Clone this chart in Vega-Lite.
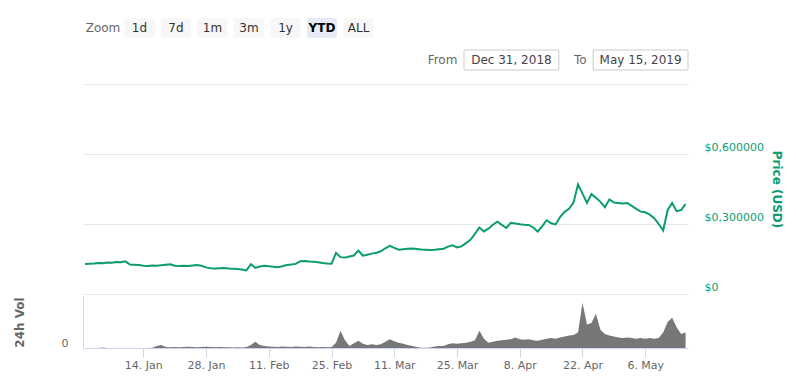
{
  "$schema": "https://vega.github.io/schema/vega-lite/v6.json",
  "padding": {"top": 18, "left": 13, "right": 5, "bottom": 5},
  "spacing": 2,
  "config": {"view": {"stroke": null}, "font": "DejaVu Sans"},
  "datasets": {
    "header": [
      {"row": "zoom", "label": "Zoom"},
      {"row": "zoom", "label": "1d"},
      {"row": "zoom", "label": "7d"},
      {"row": "zoom", "label": "1m"},
      {"row": "zoom", "label": "3m"},
      {"row": "zoom", "label": "1y"},
      {"row": "zoom", "label": "YTD"},
      {"row": "zoom", "label": "ALL"},
      {"row": "date", "label": "Dec 31, 2018", "prefix": "From"},
      {"row": "date", "label": "May 15, 2019", "prefix": "To"}
    ],
    "series": [
      {"date": "2019-01-01", "price": 0.129, "vol": 0},
      {"date": "2019-01-02", "price": 0.130, "vol": 0},
      {"date": "2019-01-03", "price": 0.131, "vol": 0},
      {"date": "2019-01-04", "price": 0.133, "vol": 0},
      {"date": "2019-01-05", "price": 0.132, "vol": 1},
      {"date": "2019-01-06", "price": 0.135, "vol": 0},
      {"date": "2019-01-07", "price": 0.134, "vol": 0},
      {"date": "2019-01-08", "price": 0.137, "vol": 0},
      {"date": "2019-01-09", "price": 0.136, "vol": 0},
      {"date": "2019-01-10", "price": 0.140, "vol": 0},
      {"date": "2019-01-11", "price": 0.126, "vol": 0},
      {"date": "2019-01-12", "price": 0.125, "vol": 0},
      {"date": "2019-01-13", "price": 0.124, "vol": 0},
      {"date": "2019-01-14", "price": 0.121, "vol": 0},
      {"date": "2019-01-15", "price": 0.120, "vol": 0},
      {"date": "2019-01-16", "price": 0.122, "vol": 0.5},
      {"date": "2019-01-17", "price": 0.121, "vol": 4},
      {"date": "2019-01-18", "price": 0.123, "vol": 6},
      {"date": "2019-01-19", "price": 0.125, "vol": 2},
      {"date": "2019-01-20", "price": 0.127, "vol": 1.5},
      {"date": "2019-01-21", "price": 0.121, "vol": 2},
      {"date": "2019-01-22", "price": 0.120, "vol": 1.5},
      {"date": "2019-01-23", "price": 0.121, "vol": 2},
      {"date": "2019-01-24", "price": 0.120, "vol": 2.5},
      {"date": "2019-01-25", "price": 0.122, "vol": 2},
      {"date": "2019-01-26", "price": 0.124, "vol": 1.5},
      {"date": "2019-01-27", "price": 0.121, "vol": 2},
      {"date": "2019-01-28", "price": 0.114, "vol": 2.5},
      {"date": "2019-01-29", "price": 0.110, "vol": 2},
      {"date": "2019-01-30", "price": 0.109, "vol": 1.5},
      {"date": "2019-01-31", "price": 0.110, "vol": 2},
      {"date": "2019-02-01", "price": 0.111, "vol": 1.5},
      {"date": "2019-02-02", "price": 0.109, "vol": 1.5},
      {"date": "2019-02-03", "price": 0.108, "vol": 1},
      {"date": "2019-02-04", "price": 0.107, "vol": 1.5},
      {"date": "2019-02-05", "price": 0.105, "vol": 1},
      {"date": "2019-02-06", "price": 0.101, "vol": 2},
      {"date": "2019-02-07", "price": 0.128, "vol": 6},
      {"date": "2019-02-08", "price": 0.112, "vol": 12},
      {"date": "2019-02-09", "price": 0.118, "vol": 6},
      {"date": "2019-02-10", "price": 0.121, "vol": 4},
      {"date": "2019-02-11", "price": 0.119, "vol": 3},
      {"date": "2019-02-12", "price": 0.117, "vol": 2.5},
      {"date": "2019-02-13", "price": 0.115, "vol": 2},
      {"date": "2019-02-14", "price": 0.119, "vol": 3},
      {"date": "2019-02-15", "price": 0.124, "vol": 2.5},
      {"date": "2019-02-16", "price": 0.126, "vol": 2},
      {"date": "2019-02-17", "price": 0.129, "vol": 3},
      {"date": "2019-02-18", "price": 0.140, "vol": 2.5},
      {"date": "2019-02-19", "price": 0.141, "vol": 2},
      {"date": "2019-02-20", "price": 0.139, "vol": 3},
      {"date": "2019-02-21", "price": 0.138, "vol": 2},
      {"date": "2019-02-22", "price": 0.136, "vol": 1.5},
      {"date": "2019-02-23", "price": 0.133, "vol": 2},
      {"date": "2019-02-24", "price": 0.131, "vol": 1.5},
      {"date": "2019-02-25", "price": 0.130, "vol": 2},
      {"date": "2019-02-26", "price": 0.176, "vol": 10},
      {"date": "2019-02-27", "price": 0.158, "vol": 33},
      {"date": "2019-02-28", "price": 0.156, "vol": 15},
      {"date": "2019-03-01", "price": 0.161, "vol": 4},
      {"date": "2019-03-02", "price": 0.165, "vol": 9},
      {"date": "2019-03-03", "price": 0.186, "vol": 14},
      {"date": "2019-03-04", "price": 0.164, "vol": 8},
      {"date": "2019-03-05", "price": 0.168, "vol": 6},
      {"date": "2019-03-06", "price": 0.173, "vol": 7},
      {"date": "2019-03-07", "price": 0.177, "vol": 6},
      {"date": "2019-03-08", "price": 0.183, "vol": 7},
      {"date": "2019-03-09", "price": 0.196, "vol": 12},
      {"date": "2019-03-10", "price": 0.206, "vol": 17},
      {"date": "2019-03-11", "price": 0.198, "vol": 13},
      {"date": "2019-03-12", "price": 0.190, "vol": 10},
      {"date": "2019-03-13", "price": 0.192, "vol": 8},
      {"date": "2019-03-14", "price": 0.194, "vol": 6},
      {"date": "2019-03-15", "price": 0.195, "vol": 4},
      {"date": "2019-03-16", "price": 0.193, "vol": 2},
      {"date": "2019-03-17", "price": 0.191, "vol": 0.6},
      {"date": "2019-03-18", "price": 0.190, "vol": 0.6},
      {"date": "2019-03-19", "price": 0.189, "vol": 1},
      {"date": "2019-03-20", "price": 0.190, "vol": 3},
      {"date": "2019-03-21", "price": 0.192, "vol": 4},
      {"date": "2019-03-22", "price": 0.194, "vol": 4},
      {"date": "2019-03-23", "price": 0.203, "vol": 7},
      {"date": "2019-03-24", "price": 0.209, "vol": 9},
      {"date": "2019-03-25", "price": 0.200, "vol": 8},
      {"date": "2019-03-26", "price": 0.204, "vol": 9},
      {"date": "2019-03-27", "price": 0.218, "vol": 10},
      {"date": "2019-03-28", "price": 0.232, "vol": 12},
      {"date": "2019-03-29", "price": 0.258, "vol": 15},
      {"date": "2019-03-30", "price": 0.285, "vol": 33},
      {"date": "2019-03-31", "price": 0.268, "vol": 18},
      {"date": "2019-04-01", "price": 0.280, "vol": 10},
      {"date": "2019-04-02", "price": 0.297, "vol": 12},
      {"date": "2019-04-03", "price": 0.310, "vol": 14},
      {"date": "2019-04-04", "price": 0.296, "vol": 15},
      {"date": "2019-04-05", "price": 0.283, "vol": 16},
      {"date": "2019-04-06", "price": 0.305, "vol": 17},
      {"date": "2019-04-07", "price": 0.302, "vol": 20},
      {"date": "2019-04-08", "price": 0.299, "vol": 17},
      {"date": "2019-04-09", "price": 0.297, "vol": 16},
      {"date": "2019-04-10", "price": 0.296, "vol": 17},
      {"date": "2019-04-11", "price": 0.285, "vol": 15},
      {"date": "2019-04-12", "price": 0.268, "vol": 14},
      {"date": "2019-04-13", "price": 0.290, "vol": 16},
      {"date": "2019-04-14", "price": 0.316, "vol": 18},
      {"date": "2019-04-15", "price": 0.303, "vol": 19},
      {"date": "2019-04-16", "price": 0.298, "vol": 18},
      {"date": "2019-04-17", "price": 0.330, "vol": 20},
      {"date": "2019-04-18", "price": 0.352, "vol": 22},
      {"date": "2019-04-19", "price": 0.365, "vol": 24},
      {"date": "2019-04-20", "price": 0.392, "vol": 25},
      {"date": "2019-04-21", "price": 0.470, "vol": 30},
      {"date": "2019-04-22", "price": 0.430, "vol": 87},
      {"date": "2019-04-23", "price": 0.390, "vol": 45},
      {"date": "2019-04-24", "price": 0.428, "vol": 48},
      {"date": "2019-04-25", "price": 0.412, "vol": 66},
      {"date": "2019-04-26", "price": 0.395, "vol": 35},
      {"date": "2019-04-27", "price": 0.372, "vol": 27},
      {"date": "2019-04-28", "price": 0.405, "vol": 24},
      {"date": "2019-04-29", "price": 0.392, "vol": 22},
      {"date": "2019-04-30", "price": 0.390, "vol": 20},
      {"date": "2019-05-01", "price": 0.388, "vol": 19},
      {"date": "2019-05-02", "price": 0.390, "vol": 20},
      {"date": "2019-05-03", "price": 0.378, "vol": 19},
      {"date": "2019-05-04", "price": 0.365, "vol": 18},
      {"date": "2019-05-05", "price": 0.353, "vol": 19},
      {"date": "2019-05-06", "price": 0.350, "vol": 18},
      {"date": "2019-05-07", "price": 0.340, "vol": 19},
      {"date": "2019-05-08", "price": 0.325, "vol": 18},
      {"date": "2019-05-09", "price": 0.300, "vol": 19},
      {"date": "2019-05-10", "price": 0.272, "vol": 30},
      {"date": "2019-05-11", "price": 0.360, "vol": 50},
      {"date": "2019-05-12", "price": 0.390, "vol": 58},
      {"date": "2019-05-13", "price": 0.355, "vol": 40},
      {"date": "2019-05-14", "price": 0.360, "vol": 27},
      {"date": "2019-05-15", "price": 0.385, "vol": 30}
    ]
  },
  "vconcat": [
    {
      "width": 605,
      "height": 64,
      "data": {"name": "header"},
      "resolve": {"scale": {"x": "independent", "y": "independent"}},
      "layer": [
        {
          "transform": [{"filter": "datum.row === 'zoom' && datum.label !== 'Zoom'"}],
          "mark": {"type": "rect", "cornerRadius": 2},
          "encoding": {
            "x": {"field": "label", "type": "nominal", "sort": null, "axis": null,
                  "scale": {"type": "band", "domain": ["Zoom", "1d", "7d", "1m", "3m", "1y", "YTD", "ALL"], "range": [5, 290.5], "paddingInner": 0.18, "paddingOuter": 0}},
            "y": {"field": "row", "type": "nominal", "axis": null,
                  "scale": {"type": "band", "domain": ["zoom", "date"], "range": [0, 52], "paddingInner": 0.375, "paddingOuter": 0}},
            "fill": {"condition": {"test": "datum.label === 'YTD'", "value": "#e6ebf5"}, "value": "#f7f7f7"}
          }
        },
        {
          "transform": [{"filter": "datum.row === 'zoom' && datum.label !== 'YTD'"}],
          "mark": {"type": "text", "fontSize": 12, "baseline": "middle"},
          "encoding": {
            "x": {"field": "label", "type": "nominal", "sort": null, "axis": null,
                  "scale": {"type": "band", "domain": ["Zoom", "1d", "7d", "1m", "3m", "1y", "YTD", "ALL"], "range": [5, 290.5], "paddingInner": 0.18, "paddingOuter": 0}},
            "y": {"field": "row", "type": "nominal", "axis": null,
                  "scale": {"type": "band", "domain": ["zoom", "date"], "range": [0, 52], "paddingInner": 0.375, "paddingOuter": 0}},
            "text": {"field": "label"},
            "color": {"condition": {"test": "datum.label === 'Zoom'", "value": "#666666"}, "value": "#333333"}
          }
        },
        {
          "transform": [{"filter": "datum.label === 'YTD'"}],
          "mark": {"type": "text", "fontSize": 12, "fontWeight": "bold", "baseline": "middle", "color": "#000000"},
          "encoding": {
            "x": {"field": "label", "type": "nominal", "sort": null, "axis": null,
                  "scale": {"type": "band", "domain": ["Zoom", "1d", "7d", "1m", "3m", "1y", "YTD", "ALL"], "range": [5, 290.5], "paddingInner": 0.18, "paddingOuter": 0}},
            "y": {"field": "row", "type": "nominal", "axis": null,
                  "scale": {"type": "band", "domain": ["zoom", "date"], "range": [0, 52], "paddingInner": 0.375, "paddingOuter": 0}},
            "text": {"field": "label"}
          }
        },
        {
          "transform": [{"filter": "datum.row === 'date'"}],
          "mark": {"type": "rect", "fill": "#ffffff", "stroke": "#cccccc", "strokeWidth": 1},
          "encoding": {
            "x": {"field": "label", "type": "nominal", "sort": null, "axis": null,
                  "scale": {"type": "band", "domain": ["Dec 31, 2018", "May 15, 2019"], "range": [381, 605], "paddingInner": 0.266, "paddingOuter": 0}},
            "y": {"field": "row", "type": "nominal", "axis": null,
                  "scale": {"type": "band", "domain": ["zoom", "date"], "range": [0, 52], "paddingInner": 0.375, "paddingOuter": 0}}
          }
        },
        {
          "transform": [{"filter": "datum.row === 'date'"}],
          "mark": {"type": "text", "fontSize": 12, "baseline": "middle", "color": "#444444"},
          "encoding": {
            "x": {"field": "label", "type": "nominal", "sort": null, "axis": null,
                  "scale": {"type": "band", "domain": ["Dec 31, 2018", "May 15, 2019"], "range": [381, 605], "paddingInner": 0.266, "paddingOuter": 0}},
            "y": {"field": "row", "type": "nominal", "axis": null,
                  "scale": {"type": "band", "domain": ["zoom", "date"], "range": [0, 52], "paddingInner": 0.375, "paddingOuter": 0}},
            "text": {"field": "label"}
          }
        },
        {
          "transform": [{"filter": "datum.row === 'date'"}],
          "mark": {"type": "text", "fontSize": 12, "baseline": "middle", "align": "right", "dx": -54, "color": "#666666"},
          "encoding": {
            "x": {"field": "label", "type": "nominal", "sort": null, "axis": null,
                  "scale": {"type": "band", "domain": ["Dec 31, 2018", "May 15, 2019"], "range": [381, 605], "paddingInner": 0.266, "paddingOuter": 0}},
            "y": {"field": "row", "type": "nominal", "axis": null,
                  "scale": {"type": "band", "domain": ["zoom", "date"], "range": [0, 52], "paddingInner": 0.375, "paddingOuter": 0}},
            "text": {"field": "prefix"}
          }
        }
      ]
    },
    {
      "width": 605,
      "height": 210,
      "data": {"name": "series"},
      "mark": {"type": "line", "color": "#0c9d6e", "strokeWidth": 2},
      "encoding": {
        "x": {"field": "date", "type": "temporal", "axis": null,
              "scale": {"type": "utc", "domain": [{"year": 2018, "month": 12, "date": 31, "hours": 13, "utc": true}, {"year": 2019, "month": 5, "date": 15, "hours": 13, "utc": true}]}},
        "y": {"field": "price", "type": "quantitative",
              "scale": {"domain": [0, 0.9]},
              "axis": {"orient": "right", "values": [0, 0.3, 0.6, 0.9], "grid": true, "gridColor": "#e6e6e6", "ticks": false, "domain": false,
                       "labelExpr": "datum.value == 0 ? '$0' : (datum.value > 0.8 ? '' : '$' + replace(format(datum.value, '.6f'), '.', ','))",
                       "labelColor": "#0c9d6e", "labelFontSize": 11, "labelAlign": "left", "labelBaseline": "bottom", "labelOffset": -2, "labelPadding": 16,
                       "title": "Price (USD)", "titleColor": "#0c9d6e", "titleFontSize": 12, "titleFontWeight": "bold", "titleAngle": 90, "titlePadding": 6}}
      }
    },
    {
      "width": 605,
      "height": 52,
      "data": {"name": "series"},
      "mark": {"type": "area", "color": "#777777"},
      "encoding": {
        "x": {"field": "date", "type": "temporal",
              "scale": {"type": "utc", "domain": [{"year": 2018, "month": 12, "date": 31, "hours": 13, "utc": true}, {"year": 2019, "month": 5, "date": 15, "hours": 13, "utc": true}]},
              "axis": {"title": null, "grid": false,
                       "labelExpr": "utcFormat(datum.value, '%-d. %b')",
                       "values": [{"year": 2019, "month": 1, "date": 14, "utc": true}, {"year": 2019, "month": 1, "date": 28, "utc": true}, {"year": 2019, "month": 2, "date": 11, "utc": true}, {"year": 2019, "month": 2, "date": 25, "utc": true}, {"year": 2019, "month": 3, "date": 11, "utc": true}, {"year": 2019, "month": 3, "date": 25, "utc": true}, {"year": 2019, "month": 4, "date": 8, "utc": true}, {"year": 2019, "month": 4, "date": 22, "utc": true}, {"year": 2019, "month": 5, "date": 6, "utc": true}],
                       "labelColor": "#666666", "labelFontSize": 11, "labelPadding": 2, "tickColor": "#ccd6eb", "tickSize": 9, "domainColor": "#ccd6eb", "labelFlush": false}},
        "y": {"field": "vol", "type": "quantitative", "scale": {"domain": [0, 100]},
              "axis": {"values": [0], "grid": false, "ticks": false, "domainColor": "#ccd6eb", "labelColor": "#666666", "labelFontSize": 11, "labelBaseline": "bottom", "labelPadding": 15,
                       "title": "24h Vol", "titleColor": "#666666", "titleFontSize": 12, "titleFontWeight": "bold", "titlePadding": 35}}
      }
    }
  ]
}
